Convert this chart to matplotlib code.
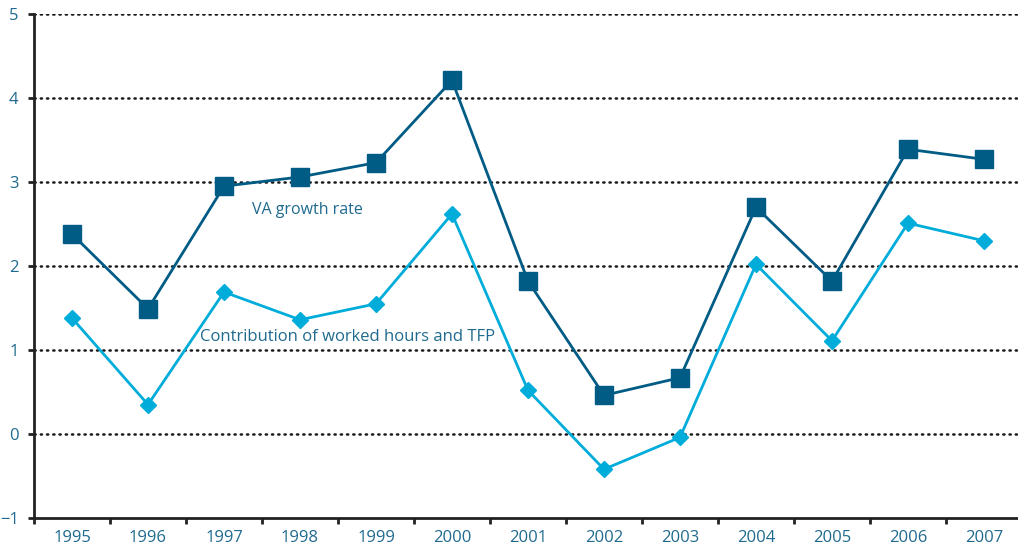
import matplotlib.pyplot as plt
import numpy as np

years = ["1995", "1996", "1997", "1998", "1999", "2000", "2001",
         "2002", "2003", "2004", "2005", "2006", "2007"]
va_growth = [2.38, 1.49, 2.95, 3.06, 3.23, 4.21, 1.82,
             0.46, 0.67, 2.70, 1.82, 3.39, 3.27]
contrib = [1.38, 0.35, 1.69, 1.36, 1.55, 2.62, 0.52,
           -0.42, -0.04, 2.02, 1.11, 2.51, 2.30]

dark = "#005b85"
light = "#00acd9"
label_col = "#1f6a8e"

plt.rcParams['font.family'] = ['Open Sans', 'DejaVu Sans']

fig = plt.figure(figsize=(10.18, 5.51), dpi=100)
ax = fig.add_axes([34 / 1018, 33 / 551, 988 / 1018, 504 / 551])

x = np.arange(len(years))
ax.plot(x, va_growth, color=dark, lw=2, marker="s", ms=12.5, zorder=3)
ax.plot(x, contrib, color=light, lw=2, marker="D", ms=8.5, zorder=3)

ax.set_xlim(-0.5, len(years) - 0.5)
ax.set_ylim(-1, 5)
ax.set_yticks(range(-1, 6))
ax.set_xticks(x)
ax.set_xticklabels(years)
ax.set_xticks(np.arange(-0.5, len(years), 1), minor=True)

for v in range(0, 6):
    ax.axhline(v, color="#1a1a1a", lw=1.8, ls=(0, (0.5, 2.0)),
               dash_capstyle="round", zorder=1)

for s in ["top", "right"]:
    ax.spines[s].set_visible(False)
for s in ["left", "bottom"]:
    ax.spines[s].set_linewidth(2)
    ax.spines[s].set_color("#222222")

ax.tick_params(axis="x", which="major", length=0, pad=9,
               labelsize=12, labelcolor=label_col)
ax.tick_params(axis="x", which="minor", length=4, width=2, color="#222222")
ax.tick_params(axis="y", length=4, width=2, color="#222222", pad=7,
               labelsize=12, labelcolor=label_col)

ax.text(2.37, 2.67, "VA growth rate", color=label_col, fontsize=11.5,
        va="center", ha="left")
ax.text(1.68, 1.15, "Contribution of worked hours and TFP", color=label_col,
        fontsize=12, va="center", ha="left")

fig.savefig("out.png", dpi=100)
